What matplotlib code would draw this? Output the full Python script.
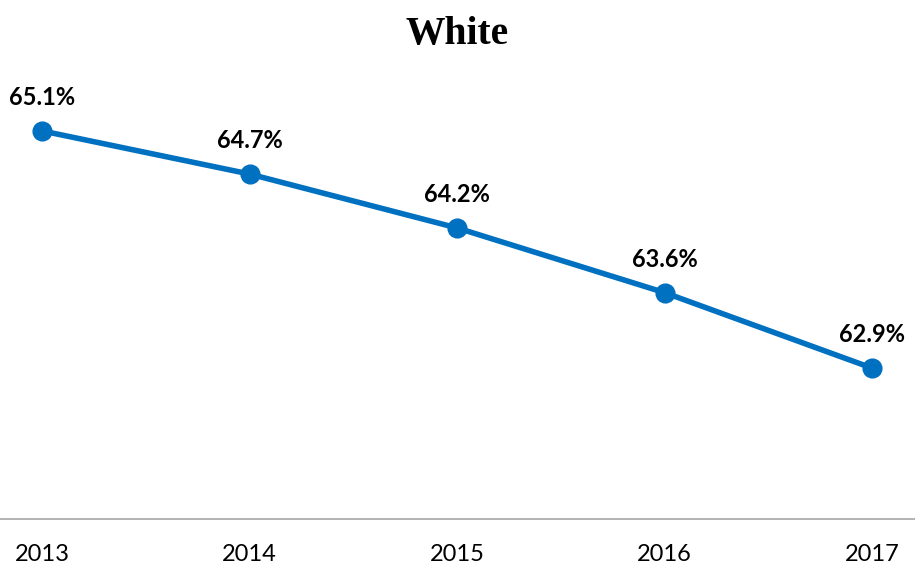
import matplotlib
matplotlib.use("Agg")
import matplotlib.pyplot as plt

years = ["2013", "2014", "2015", "2016", "2017"]
share = [65.1, 64.7, 64.2, 63.6, 62.9]
point_labels = ["65.1%", "64.7%", "64.2%", "63.6%", "62.9%"]

fig = plt.figure(figsize=(9.15, 5.82), dpi=100)
ax = fig.add_axes([0.0, 0.1082, 1.0, 0.741])

x = list(range(len(years)))
ax.plot(x, share, color="#0070C0", linewidth=4.0, marker="o",
        markersize=13.5, solid_capstyle="round", zorder=3)

for xi, yi, lab in zip(x, share, point_labels):
    ax.annotate(lab, (xi, yi), xytext=(0, 24), textcoords="offset points",
                ha="center", va="center", fontsize=17, fontweight="bold",
                family="Lato", color="#000000")

ax.set_xlim(-0.2024, 4.207)
ax.set_ylim(61.5, 65.5)
ax.set_xticks(x)
ax.set_xticklabels(years, fontsize=17, family="Lato")
ax.tick_params(axis="x", length=0, pad=18)
ax.set_yticks([])
for side in ("top", "right", "left"):
    ax.spines[side].set_visible(False)
ax.spines["bottom"].set_color("#A6A6A6")
ax.spines["bottom"].set_linewidth(1.2)

fig.text(0.5, 0.94, "White", ha="center", va="center", fontsize=28.5,
         fontweight="bold", family="Liberation Serif")

fig.savefig("out.png", dpi=100)
